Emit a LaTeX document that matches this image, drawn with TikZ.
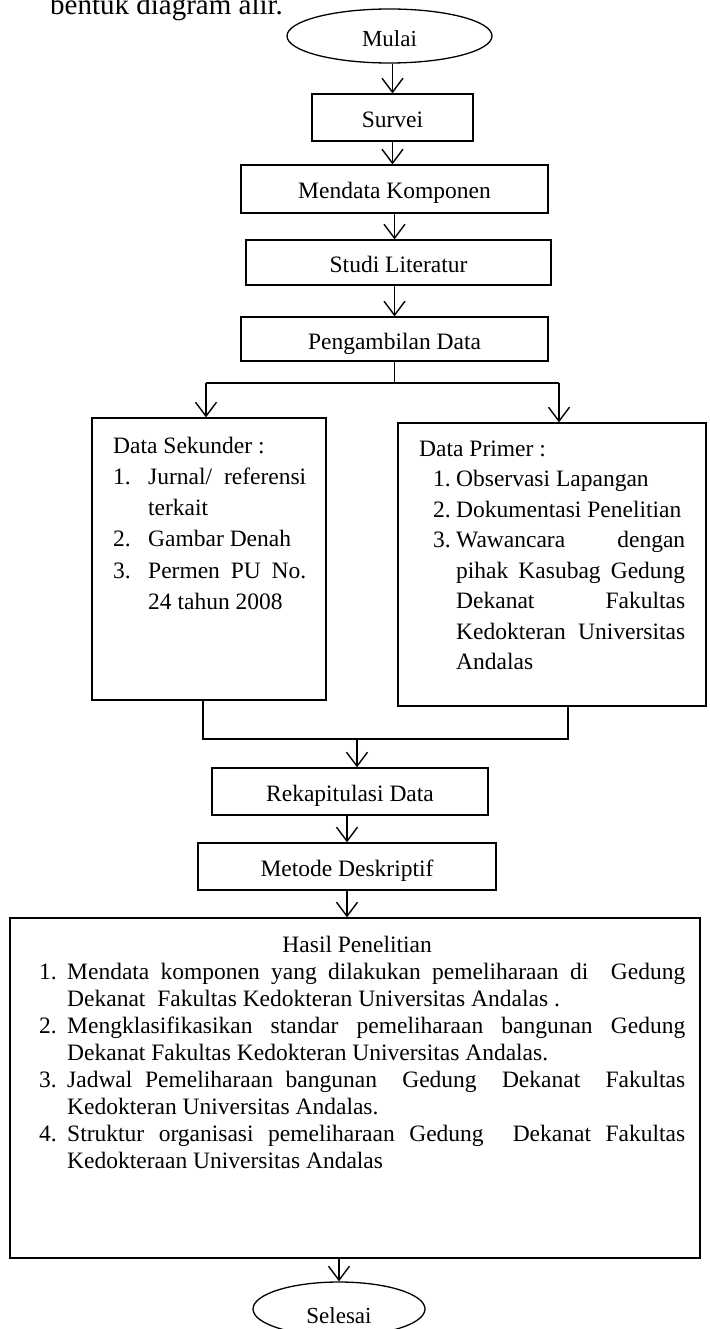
\documentclass[tikz,border=0pt]{standalone}
\usepackage{fontspec}
\setmainfont{Liberation Serif}
\usetikzlibrary{arrows.meta,shapes.geometric}
\newcommand{\jl}[1]{\makebox[\linewidth][s]{#1}}
\newcommand{\itm}[4]{\noindent\hspace*{#1}\makebox[#2][l]{#3}\parbox[t]{\dimexpr\linewidth-#1-#2\relax}{#4\strut}\par\prevdepth=\dp\strutbox}
\begin{document}
\begin{tikzpicture}[x=1pt,y=-1pt,
  box/.style={draw, line width=1.3pt, rectangle, inner sep=0pt, text height=20pt, text depth=0pt, font=\fontsize{23.5}{28}\selectfont},
  term/.style={draw, line width=1.3pt, ellipse, inner sep=0pt, font=\fontsize{23}{28}\selectfont},
  arr/.style={line width=1.4pt, -{Straight Barb[length=14pt,width=21pt]}},
  conn/.style={line width=1.4pt},
  txt/.style={anchor=base west, inner sep=0pt}]
\useasboundingbox (0,0) rectangle (709,1329);

\node[txt, font=\fontsize{29}{34}\selectfont] (cap) at (50,15) {bentuk diagram alir.};

\node[term, minimum width=205pt, minimum height=54pt, text height=22pt, text depth=0pt] (mulai) at (389.5,36) {Mulai};
\node[box, minimum width=161pt, minimum height=47pt] (survei) at (392.5,117.5) {Survei};
\node[box, minimum width=307pt, minimum height=48pt] (mendata) at (394.5,189) {Mendata Komponen};
\node[box, minimum width=305pt, minimum height=45pt] (studi) at (398.5,262.5) {Studi Literatur};
\node[box, minimum width=307pt, minimum height=44pt] (peng) at (394.5,339) {Pengambilan Data};
\node[box, minimum width=234pt, minimum height=282pt] (left) at (209,559) {};
\node[box, minimum width=308pt, minimum height=283pt] (right) at (552,564.5) {};
\node[box, minimum width=276pt, minimum height=47pt] (rekap) at (350,791.5) {Rekapitulasi Data};
\node[box, minimum width=298pt, minimum height=47pt] (metode) at (347,866.5) {Metode Deskriptif};
\node[box, minimum width=690pt, minimum height=340pt] (hasil) at (355,1088) {};
\node[term, minimum width=172pt, minimum height=54pt, text height=28pt, text depth=0pt] (selesai) at (339,1309) {Selesai};

\node[txt] (lefttxt) at (113,453) {\fontsize{23.5}{31.3}\selectfont\parbox[t]{193pt}{%
\noindent Data Sekunder :\par
\itm{0pt}{35pt}{1.}{\jl{Jurnal/ referensi}\\terkait}%
\itm{0pt}{35pt}{2.}{Gambar Denah}%
\itm{0pt}{35pt}{3.}{\jl{Permen PU No.}\\24 tahun 2008}}};

\node[txt] (righttxt) at (419,456) {\fontsize{23.5}{30.5}\selectfont\parbox[t]{266pt}{%
\noindent Data Primer :\par
\itm{14pt}{23pt}{1.}{Observasi Lapangan}%
\itm{14pt}{23pt}{2.}{Dokumentasi Penelitian}%
\itm{14pt}{23pt}{3.}{\jl{Wawancara dengan}\\\jl{pihak Kasubag Gedung}\\\jl{Dekanat Fakultas}\\\jl{Kedokteran Universitas}\\Andalas}}};

\node[txt] (hasiltxt) at (39,952) {\fontsize{23.5}{27}\selectfont\parbox[t]{646pt}{%
\noindent\makebox[\linewidth]{\hspace*{-10pt}Hasil Penelitian}\par
\itm{0pt}{28pt}{1.}{\jl{Mendata komponen yang dilakukan pemeliharaan di\ \ Gedung}\\Dekanat\ \ Fakultas Kedokteran Universitas Andalas .}%
\itm{0pt}{28pt}{2.}{\jl{Mengklasifikasikan standar pemeliharaan bangunan Gedung}\\Dekanat Fakultas Kedokteran Universitas Andalas.}%
\itm{0pt}{28pt}{3.}{\jl{Jadwal Pemeliharaan bangunan\ \ Gedung\ \ Dekanat\ \ Fakultas}\\Kedokteran Universitas Andalas.}%
\itm{0pt}{28pt}{4.}{\jl{Struktur organisasi pemeliharaan Gedung\ \ Dekanat Fakultas}\\Kedokteraan Universitas Andalas}}};

% connectors
\coordinate (jl) at (206,383);
\coordinate (jr) at (559,383);
\coordinate (bl) at (203,739);
\coordinate (br) at (568,739);
\coordinate (bm) at (357,739);

\draw[arr] (survei.north |- mulai.south) -- (survei.north);
\draw[arr] (survei.south) -- (survei.south |- mendata.north);
\draw[arr] (mendata.south) -- (mendata.south |- studi.north);
\draw[arr] (peng.north |- studi.south) -- (peng.north);
\draw[conn] (peng.south) -- (peng.south |- jl);
\draw[conn] (jl) -- (jr);
\draw[arr] (jl) -- (jl |- left.north);
\draw[arr] (jr) -- (jr |- right.north);
\draw[conn] (bl |- left.south) -- (bl) -- (br) -- (br |- right.south);
\draw[arr] (bm) -- (bm |- rekap.north);
\draw[arr] (metode.north |- rekap.south) -- (metode.north);
\draw[arr] (metode.south) -- (metode.south |- hasil.north);
\draw[arr] (selesai.north |- hasil.south) -- (selesai.north);
\end{tikzpicture}
\end{document}
